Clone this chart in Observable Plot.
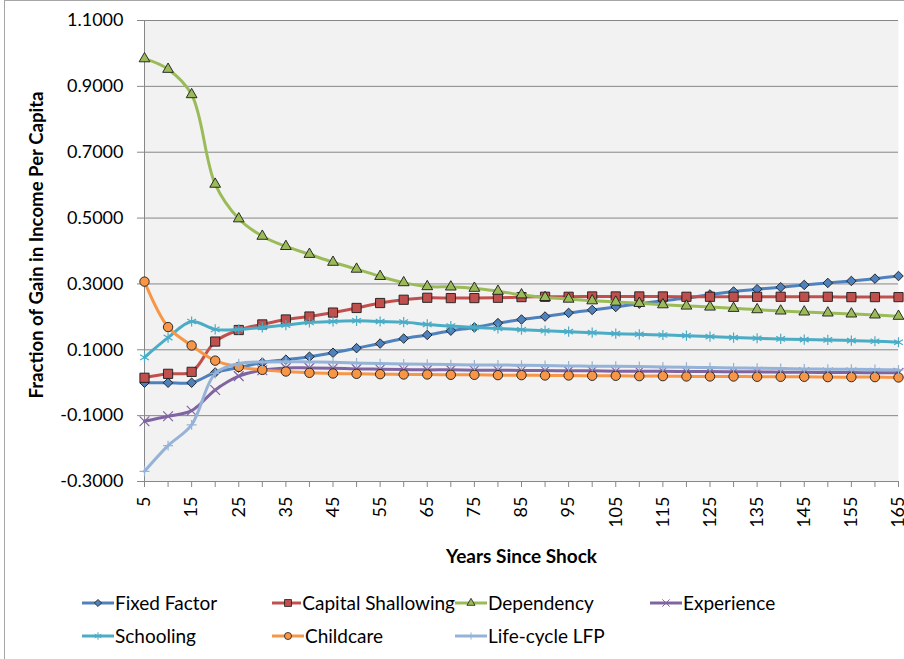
<!DOCTYPE html>
<html><head><meta charset="utf-8">
<script src="https://cdn.jsdelivr.net/npm/d3@7"></script>
<script src="https://cdn.jsdelivr.net/npm/@observablehq/plot@0.6"></script>
<style>
body{margin:0;background:#fff;font-family:Lato,sans-serif;}
#wrap{position:relative;width:904px;height:659px;overflow:hidden;}
#border{position:absolute;left:4px;top:0;width:910px;height:700px;border:1px solid #a6a6a6;box-sizing:border-box;pointer-events:none}
#chart{position:absolute;left:0;top:0}
#legend{position:absolute;left:82px;top:586px;display:grid;grid-template-columns:190px 183px 195px auto;font-size:19px;color:#000}
.item{display:flex;align-items:center;height:33px;white-space:nowrap}
.item svg{margin-right:1px}
</style></head>
<body><div id="wrap"><div id="chart"></div><div id="legend"></div><div id="border"></div></div>
<script>
const years = [5,10,15,20,25,30,35,40,45,50,55,60,65,70,75,80,85,90,95,100,105,110,115,120,125,130,135,140,145,150,155,160,165];
const yTicks = [-0.3,-0.1,0.1,0.3,0.5,0.7,0.9,1.1];
const xTicks = years;

const fixedFactor = [0.000,0.000,0.000,0.031,0.046,0.061,0.070,0.079,0.091,0.105,0.119,0.134,0.145,0.158,0.168,0.181,0.192,0.201,0.212,0.221,0.230,0.240,0.249,0.257,0.268,0.277,0.284,0.290,0.297,0.303,0.309,0.316,0.324];
const capitalShallowing = [0.015,0.027,0.033,0.125,0.160,0.177,0.192,0.201,0.213,0.227,0.242,0.252,0.258,0.257,0.257,0.258,0.260,0.261,0.261,0.262,0.262,0.262,0.262,0.261,0.261,0.261,0.261,0.261,0.261,0.261,0.260,0.260,0.260];
const dependency = [0.984,0.952,0.875,0.603,0.498,0.445,0.414,0.390,0.366,0.345,0.323,0.304,0.292,0.291,0.287,0.278,0.267,0.259,0.254,0.249,0.245,0.241,0.237,0.233,0.230,0.226,0.222,0.218,0.215,0.212,0.209,0.206,0.202];
const experience = [-0.117,-0.102,-0.085,-0.022,0.020,0.038,0.045,0.045,0.044,0.042,0.041,0.040,0.039,0.039,0.038,0.038,0.037,0.037,0.036,0.036,0.035,0.035,0.035,0.034,0.034,0.033,0.033,0.032,0.032,0.031,0.031,0.030,0.030];
const schooling = [0.077,0.137,0.186,0.162,0.162,0.168,0.175,0.183,0.186,0.188,0.186,0.184,0.177,0.172,0.168,0.165,0.161,0.158,0.155,0.152,0.149,0.147,0.145,0.143,0.140,0.137,0.135,0.133,0.131,0.130,0.128,0.126,0.123];
const childcare = [0.307,0.169,0.113,0.067,0.048,0.039,0.034,0.030,0.028,0.027,0.026,0.025,0.025,0.024,0.024,0.023,0.023,0.022,0.022,0.021,0.021,0.020,0.020,0.019,0.019,0.019,0.018,0.018,0.018,0.017,0.017,0.017,0.016];
const lifeCycleLFP = [-0.269,-0.191,-0.128,0.028,0.058,0.063,0.064,0.063,0.062,0.060,0.058,0.057,0.056,0.055,0.054,0.054,0.053,0.052,0.051,0.050,0.050,0.049,0.048,0.047,0.046,0.045,0.044,0.043,0.042,0.041,0.041,0.040,0.039];

const seriesNames = ["Fixed Factor","Capital Shallowing","Dependency","Experience","Schooling","Childcare","Life-cycle LFP"];
const seriesValues = [fixedFactor,capitalShallowing,dependency,experience,schooling,childcare,lifeCycleLFP];
const seriesColors = ["#4F81BD","#C0504D","#9BBB59","#8064A2","#4BACC6","#F79646","#95B3D7"];
const seriesSymbols = ["diamond2","square","triangle","times","asterisk","circle","plus"];
const seriesFilled = [true,true,true,false,false,true,false];
const seriesR = [4.3,5.2,4.0,4.5,4.8,4.7,3.3];

const series = seriesNames.map((name,i)=>({name, values:seriesValues[i], color:seriesColors[i], symbol:seriesSymbols[i], filled:seriesFilled[i], r:seriesR[i]}));

const marks = [
  Plot.frame({fill:"#F2F2F2", stroke:null}),
  Plot.gridY(yTicks, {stroke:"#878787", strokeOpacity:1, strokeWidth:1}),
  Plot.ruleX([5], {stroke:"#878787"}),
  Plot.ruleY([-0.3], {stroke:"#878787"}),
  Plot.axisY(yTicks, {tickFormat:d=>d.toFixed(4), tickSize:7, tickPadding:14, stroke:"#878787", label:null, fontSize:18}),
  Plot.axisX(xTicks, {tickFormat:d=>((d-5)%10===0 ? String(d) : ""), tickRotate:-90, tickSize:6, tickPadding:9, stroke:"#878787", label:null, fontSize:18}),
  Plot.text(["Fraction of Gain in Income Per Capita"], {frameAnchor:"left", textAnchor:"middle", rotate:-90, dx:-107, dy:-6, fontWeight:"bold", fontSize:18.6, fill:"#000"}),
  Plot.text(["Years Since Shock"], {frameAnchor:"bottom", textAnchor:"middle", dy:81, fontWeight:"bold", fontSize:19, fill:"#000"})
];
for (const s of series) {
  marks.push(Plot.line(s.values, {x:years, y:d=>d, stroke:s.color, strokeWidth:3, curve:"catmull-rom"}));
  marks.push(Plot.dot(s.values, {x:years, y:d=>d, symbol:s.symbol, r:s.r,
    fill: s.filled ? s.color : "none", stroke: s.filled ? "#1b1b1b" : s.color, strokeWidth: s.filled ? 0.9 : 1.2}));
}

const chart = Plot.plot({
  width:904, height:580, marginLeft:144, marginRight:6, marginTop:20, marginBottom:99,
  style:{fontFamily:"Lato, sans-serif", fontSize:"18px", color:"#000", background:"transparent", overflow:"visible"},
  x:{domain:[5,165]},
  y:{domain:[-0.3,1.1]},
  marks
});
document.getElementById("chart").appendChild(chart);

// legend
const symMap = {diamond2:d3.symbolDiamond2, square:d3.symbolSquare, triangle:d3.symbolTriangle, times:d3.symbolTimes, asterisk:d3.symbolAsterisk, circle:d3.symbolCircle, plus:d3.symbolPlus};
const legend = d3.select("#legend");
series.forEach((s,k)=>{
  const item = legend.append("div").attr("class","item");
  if (k===4) item.style("grid-column","1");
  const svg = item.append("svg").attr("width",32).attr("height",16);
  svg.append("line").attr("x1",0).attr("x2",32).attr("y1",8).attr("y2",8).attr("stroke",s.color).attr("stroke-width",3);
  svg.append("path").attr("transform","translate(16,8)")
    .attr("d", d3.symbol(symMap[s.symbol], Math.PI*Math.pow(s.r*0.75,2))())
    .attr("fill", s.filled ? s.color : "none")
    .attr("stroke", s.filled ? "#1b1b1b" : s.color)
    .attr("stroke-width", s.filled ? 0.8 : 1);
  item.append("span").text(s.name);
});
</script>
</body></html>
